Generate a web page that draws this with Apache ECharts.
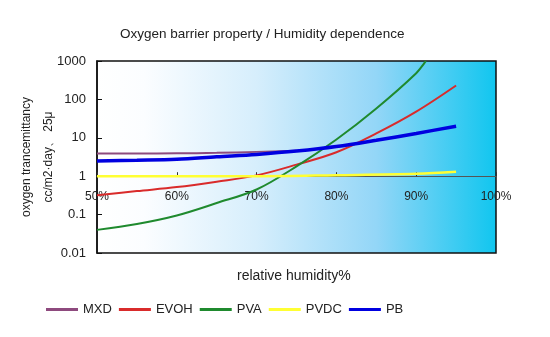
<!DOCTYPE html>
<html>
<head>
<meta charset="utf-8">
<script src="https://cdn.jsdelivr.net/npm/echarts@6/dist/echarts.min.js"></script>
<style>html,body{margin:0;padding:0;background:#fff;}#c{width:550px;height:337px;}</style>
</head>
<body>
<div id="c"></div>
<script>
var title = 'Oxygen barrier property / Humidity dependence';
var xName = 'relative humidity%';
var yName = 'oxygen trancemittancy\ncc/m2\u00b7day\u3001 25\u03bc';
var seriesNames = ['MXD', 'EVOH', 'PVA', 'PVDC', 'PB'];

var mxdX = [50, 55, 60, 65, 70, 75];
var mxdY = [3.9, 3.9, 3.95, 4.05, 4.3, 4.6];
var evohX = [50, 55, 60, 65, 70, 75, 80, 85, 90, 95];
var evohY = [0.32, 0.41, 0.52, 0.72, 1.05, 2.0, 4.2, 13, 48, 230];
var pvaX = [50, 55, 60, 65, 70, 75, 80, 85, 90, 91.2];
var pvaY = [0.04, 0.057, 0.095, 0.2, 0.45, 1.8, 9, 58, 480, 1000];
var pvdcX = [50, 60, 70, 80, 90, 95];
var pvdcY = [1.0, 1.0, 1.0, 1.06, 1.15, 1.3];
var pbX = [50, 55, 60, 65, 70, 75, 80, 85, 90, 95];
var pbY = [2.5, 2.6, 2.75, 3.2, 3.7, 4.5, 5.9, 8.6, 13, 20];

var xTicks = [50, 60, 70, 80, 90, 100];
var yTicks = [0.01, 0.1, 1, 10, 100, 1000];

function pairs(xs, ys) { return xs.map(function (x, i) { return [x, ys[i]]; }); }

var colors = ['#8e4a7e', '#d92b2b', '#1f8a2e', '#ffff33', '#0000e0'];
var widths = [2, 2, 2, 2.5, 3.5];
var dataSets = [pairs(mxdX, mxdY), pairs(evohX, evohY), pairs(pvaX, pvaY), pairs(pvdcX, pvdcY), pairs(pbX, pbY)];

var chart = echarts.init(document.getElementById('c'), null, { renderer: 'canvas' });
var font = 'Arial, "Liberation Sans", sans-serif';
chart.setOption({
  animation: false,
  textStyle: { fontFamily: font },
  title: [
    { text: title, left: 120, top: 27, padding: 0, textStyle: { fontSize: 13.5, fontWeight: 'normal', color: '#222', fontFamily: font } },
    { text: xName, left: 237, top: 269, padding: 0, textStyle: { fontSize: 14, fontWeight: 'normal', color: '#222', fontFamily: font } }
  ],
  legend: {
    bottom: 16, left: 41,
    icon: 'rect',
    itemWidth: 32, itemHeight: 3, itemGap: 7,
    textStyle: { fontSize: 13, color: '#222', fontFamily: font },
    data: seriesNames
  },
  grid: {
    left: 97, right: 54, top: 61, bottom: 84,
    outerBoundsMode: 'none', containLabel: false,
    show: true, borderColor: '#111', borderWidth: 1.5,
    backgroundColor: {
      type: 'linear', x: 0, y: 0, x2: 1, y2: 0,
      colorStops: [
        { offset: 0, color: '#ffffff' },
        { offset: 0.12, color: '#fbfdff' },
        { offset: 0.4, color: '#d6eefc' },
        { offset: 0.7, color: '#93d6f7' },
        { offset: 1, color: '#10c6ef' }
      ]
    }
  },
  xAxis: {
    type: 'value', min: xTicks[0], max: xTicks[xTicks.length - 1], interval: 10,
    position: 'bottom', offset: -76.8,
    axisLine: { onZero: false, lineStyle: { color: '#555', width: 1 } },
    axisTick: { inside: true, length: 4, lineStyle: { color: '#333' } },
    axisLabel: { margin: 14, fontSize: 12, color: '#222', formatter: function (v) { return v + '%'; } },
    splitLine: { show: false }
  },
  yAxis: {
    type: 'log', logBase: 10, min: yTicks[0], max: yTicks[yTicks.length - 1],
    name: yName, nameLocation: 'middle', nameRotate: 90, nameGap: 37, nameMoveOverlap: false,
    nameTextStyle: { fontSize: 12, color: '#222', lineHeight: 22, align: 'center' },
    axisLine: { lineStyle: { color: '#111', width: 1.5 } },
    axisTick: { inside: true, length: 5, lineStyle: { color: '#111' } },
    axisLabel: { margin: 11, fontSize: 13, color: '#222',
      formatter: function (v) { return yTicks.filter(function (t) { return Math.abs(Math.log10(t) - Math.log10(v)) < 1e-6; }).length ? String(v) : ''; } },
    splitLine: { show: false }
  },
  series: seriesNames.map(function (n, i) {
    return {
      name: n, type: 'line', data: dataSets[i], smooth: 0.35,
      showSymbol: false, symbol: 'none', clip: true,
      color: colors[i],
      lineStyle: { color: colors[i], width: widths[i] },
      z: i === 4 ? 5 : 2 + i * 0.1
    };
  })
});
</script>
</body>
</html>
